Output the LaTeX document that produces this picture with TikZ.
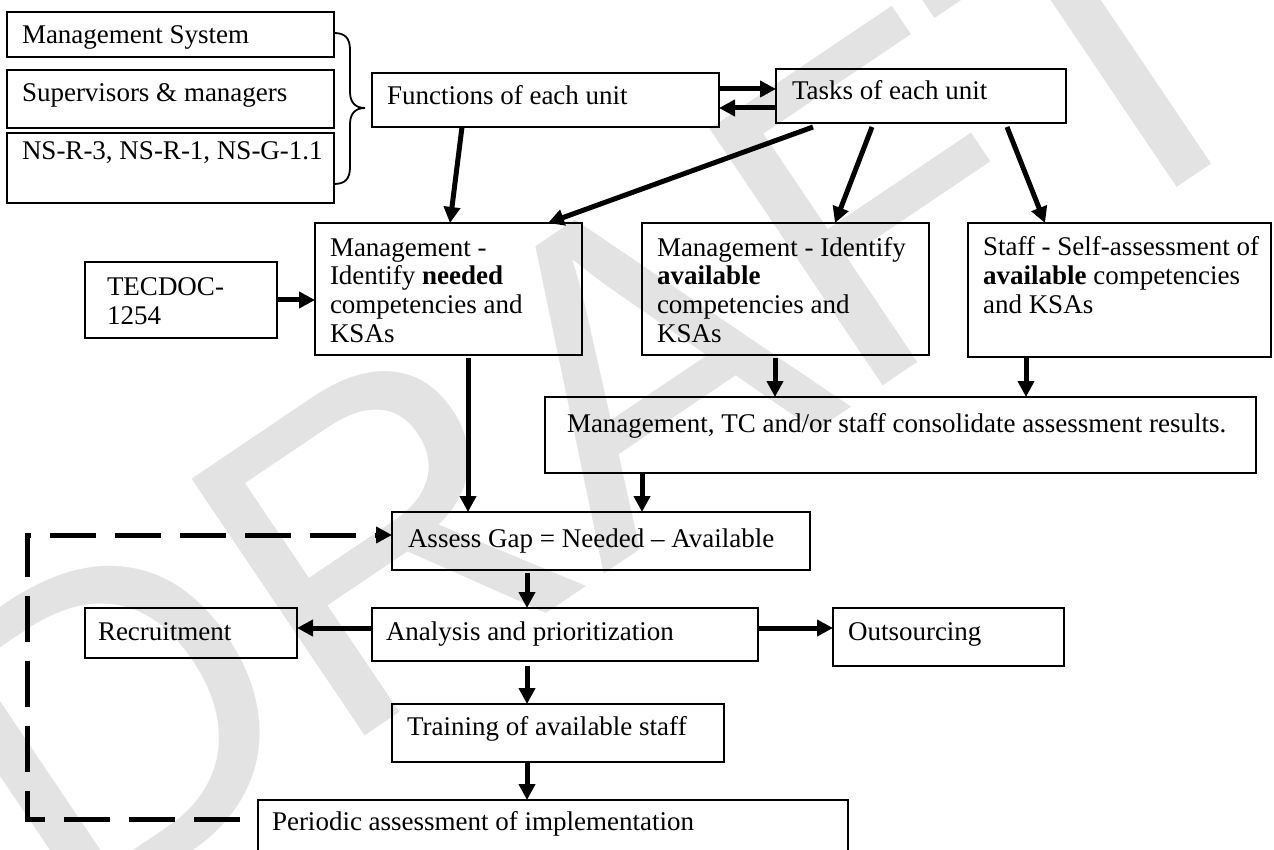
\documentclass[tikz,border=0pt]{standalone}
\usepackage{fontspec}
\setmainfont{Liberation Serif}
\newfontfamily\wmfont{Liberation Sans}
\usetikzlibrary{arrows.meta,calc}
\newcommand\bx[5]{\node[box, minimum width={(#4-#2)*0.5pt}, minimum height={(#5-#3)*0.5pt}] (#1) at (#2,#3) {};}
\newcommand\tx[4]{\node[txt] (#1) at (#2,#3-20.3) {\strut #4};}
\begin{document}
\begin{tikzpicture}[x=0.5pt,y=-0.5pt,
  box/.style={draw, line width=0.9pt, rectangle, inner sep=0pt, outer sep=0pt, anchor=north west},
  txt/.style={inner sep=0pt, outer sep=0pt, anchor=north west, align=left, font=\fontsize{13.5}{14.5}\selectfont},
  arr/.style={line width=2.5pt, -{Triangle[length=8pt,width=8pt]}},
  dsh/.style={line width=2.5pt, dash pattern=on 23pt off 9.5pt, -{Triangle[length=8pt,width=8pt]}},
  brace/.style={line width=0.9pt},
  wm/.style={rotate=34, text=black!11, font=\wmfont\fontsize{225}{225}\selectfont, inner sep=0pt}
]
\clip (0,0) rectangle (1274,850);
\fill[white] (0,0) rectangle (1274,850);
\node[wm] (watermark) at (600,390) {DRAFT};

% boxes
\bx{ms}{7}{12}{334}{57}
\bx{sup}{7}{70}{334}{128}
\bx{ns}{7}{133}{334}{203}
\bx{fun}{372}{73}{719}{127}
\bx{task}{776}{69}{1066}{123}
\bx{tec}{85}{262}{277}{338}
\bx{need}{315}{223}{582}{355}
\bx{avail}{642}{223}{929}{355}
\bx{staff}{968}{223}{1271}{357}
\bx{cons}{545}{397}{1256}{473}
\bx{gap}{392}{512}{810}{570}
\bx{recr}{85}{608}{297}{658}
\bx{anal}{372}{608}{758}{661}
\bx{outs}{833}{608}{1064}{666}
\bx{train}{392}{704}{724}{762}
\bx{per}{258}{800}{848}{880}

% texts
\tx{mst}{22}{44}{Management System}
\tx{supt}{22}{102}{Supervisors \& managers}
\tx{nst}{22}{160}{NS-R-3, NS-R-1, NS-G-1.1}
\tx{funt}{387}{105}{Functions of each unit}
\tx{taskt}{792}{100}{Tasks of each unit}
\tx{tect}{107}{295}{TECDOC-\\1254}
\tx{needt}{330}{256}{Management -\\Identify \textbf{needed}\\competencies and\\KSAs}
\tx{availt}{657}{256}{Management - Identify\\\textbf{available}\\competencies and\\KSAs}
\tx{stafft}{983}{256}{Staff - Self-assessment of\\\textbf{available} competencies\\and KSAs}
\tx{const}{567}{432}{Management, TC and/or staff consolidate assessment results.}
\tx{gapt}{408}{547}{Assess Gap = Needed -- Available}
\tx{recrt}{98}{640}{Recruitment}
\tx{analt}{386}{640}{Analysis and prioritization}
\tx{outst}{848}{640}{Outsourcing}
\tx{traint}{407}{735}{Training of available staff}
\tx{pert}{272}{830}{Periodic assessment of implementation}

% brace
\draw[brace] (ms.east |- 0,33) .. controls (345,33) and (350,38) .. (350,50) -- (350,92)
  .. controls (350,102) and (355,108) .. (365,108)
  .. controls (355,108) and (350,114) .. (350,124) -- (350,167)
  .. controls (350,179) and (345,184) .. (ns.east |- 0,184);

% arrows
\draw[arr] ($(fun.north east)+(0,16)$) -- ($(task.north west)+(0,20)$);
\draw[arr] ($(task.north west)+(0,39)$) -- ($(fun.north east)+(0,35)$);
\draw[arr] ($(fun.south west)+(90,0)$) -- ($(need.north west)+(135,0)$);
\draw[arr] ($(task.south west)+(37,4)$) -- ($(need.north west)+(233,0)$);
\draw[arr] ($(task.south west)+(96,4)$) -- ($(avail.north west)+(193,0)$);
\draw[arr] ($(task.south west)+(231,4)$) -- ($(staff.north west)+(77,0)$);
\draw[arr] (tec.east) -- (tec.east -| need.west);
\draw[arr] ($(need.south west)+(153,3)$) -- ($(gap.north west)+(76,0)$);
\draw[arr] ($(avail.south west)+(133,3)$) -- ($(cons.north west)+(230,0)$);
\draw[arr] ($(staff.south west)+(58,1)$) -- ($(cons.north west)+(481,0)$);
\draw[arr] ($(cons.south west)+(97,0)$) -- ($(gap.north west)+(250,0)$);
\draw[arr] ($(gap.south west)+(135,3)$) -- ($(anal.north west)+(155,0)$);
\coordinate (aw) at ($(anal.north west)+(0,20)$);
\coordinate (ae) at ($(anal.north east)+(0,20)$);
\draw[arr] (aw) -- (aw -| recr.east);
\draw[arr] (ae) -- (ae -| outs.west);
\draw[arr] ($(anal.south west)+(155,5)$) -- ($(train.north west)+(135,0)$);
\draw[arr] ($(train.south west)+(135,0)$) -- ($(per.north west)+(269,0)$);

% dashed feedback loop
\coordinate (loopstart) at ($(per.north west)+(-18,19)$);
\coordinate (loopbl) at (27,819);
\coordinate (looptl) at (27,535);
\draw[dsh] (loopstart) -- (loopbl) -- (looptl) -- (looptl -| gap.west);
\end{tikzpicture}
\end{document}
